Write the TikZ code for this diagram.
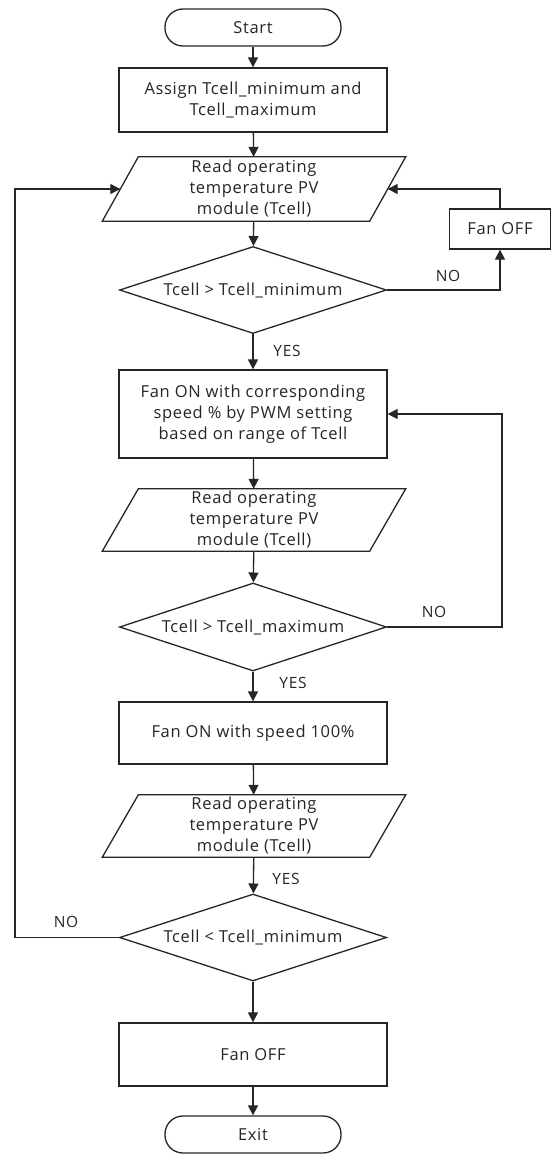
\documentclass[tikz,border=0pt]{standalone}
\usepackage{fontspec}
\setmainfont{Open Sans}[LetterSpace=4]
\usetikzlibrary{shapes.geometric,arrows.meta,calc}

\tikzset{
  flow/.style={line width=1.3pt, draw=black!85},
  arrow/.style={flow, -{Triangle[length=10pt,width=10pt]}},
  base/.style={font=\fontsize{16.5}{21}\selectfont, text=black!85, align=center, inner sep=0pt},
  term/.style={base, flow, rectangle, rounded corners=18pt, minimum width=176pt, minimum height=37pt},
  proc/.style={base, flow, rectangle, minimum width=268pt},
  io/.style={base, rectangle, minimum width=267pt},
  decision/.style={base, flow, diamond, aspect=3.07, minimum width=267pt, minimum height=87pt},
  tag/.style={font=\fontsize{15.5}{17}\selectfont, text=black!85, inner sep=0pt}
}

\begin{document}
\begin{tikzpicture}[x=1pt, y=-1pt]
  \useasboundingbox[fill=white] (0,0) rectangle (550,1154);

  % main column
  \node[term] (start) at (253,27.5) {Start};
  \node[proc, minimum height=64pt] (assign) at (253,100) {Assign Tcell\_minimum and\\Tcell\_maximum};
  \node[io, minimum height=64pt] (read1) at (254,189) {Read operating\\temperature PV\\module (Tcell)};
  \node[decision] (dec1) at (253,290) {Tcell > Tcell\_minimum};
  \node[proc, minimum height=88pt] (pwm) at (253,414) {Fan ON with corresponding\\speed \% by PWM setting\\based on range of Tcell};
  \node[io, minimum height=62pt] (read2) at (254,520) {Read operating\\temperature PV\\module (Tcell)};
  \node[decision, minimum height=88pt] (dec2) at (253,627) {Tcell > Tcell\_maximum};
  \node[proc, minimum height=62pt] (full) at (253,733) {Fan ON with speed 100\%};
  \node[io, minimum height=62pt] (read3) at (254,826) {Read operating\\temperature PV\\module (Tcell)};
  \node[decision] (dec3) at (253,937.5) {Tcell < Tcell\_minimum};
  \node[proc, minimum height=63pt] (off) at (253,1054.5) {Fan OFF};
  \node[term] (exit) at (253,1134.5) {Exit};

  % side box
  \node[proc, minimum width=101pt, minimum height=40pt] (fanoff) at (500,229) {Fan OFF};

  % input/output parallelograms
  \foreach \n in {read1,read2,read3}
    \draw[flow] ([xshift=-18pt]\n.south west) -- ([xshift=18pt]\n.north west)
      -- ([xshift=18pt]\n.north east) -- ([xshift=-18pt]\n.south east) -- cycle;

  % loop corner points
  \coordinate (r2) at (502,627);
  \coordinate (l3) at (15,937.5);

  % straight flow
  \draw[arrow] (start) -- (assign);
  \draw[arrow] (assign) -- (read1);
  \draw[arrow] (read1) -- (dec1);
  \draw[arrow] (dec1) -- (pwm);
  \draw[arrow] (pwm) -- (read2);
  \draw[arrow] (read2) -- (dec2);
  \draw[arrow] (dec2) -- (full);
  \draw[arrow] (full) -- (read3);
  \draw[arrow] (read3) -- (dec3);
  \draw[arrow] (dec3) -- (off);
  \draw[arrow] (off) -- (exit);

  % feedback loops
  \draw[arrow] (dec1.east) -| (fanoff.south);
  \draw[arrow] (fanoff.north) |- (read1.east);
  \draw[arrow] (dec2.east) -- (r2) |- (pwm.east);
  \draw[arrow] (dec3.west) -- (l3) |- (read1.west);

  % branch labels
  \node[tag] (yes1) at (287,351) {YES};
  \node[tag] (yes2) at (293,683) {YES};
  \node[tag] (yes3) at (286,879) {YES};
  \node[tag] (no1) at (448,276) {NO};
  \node[tag] (no2) at (434,612) {NO};
  \node[tag] (no3) at (66,922) {NO};
\end{tikzpicture}
\end{document}
